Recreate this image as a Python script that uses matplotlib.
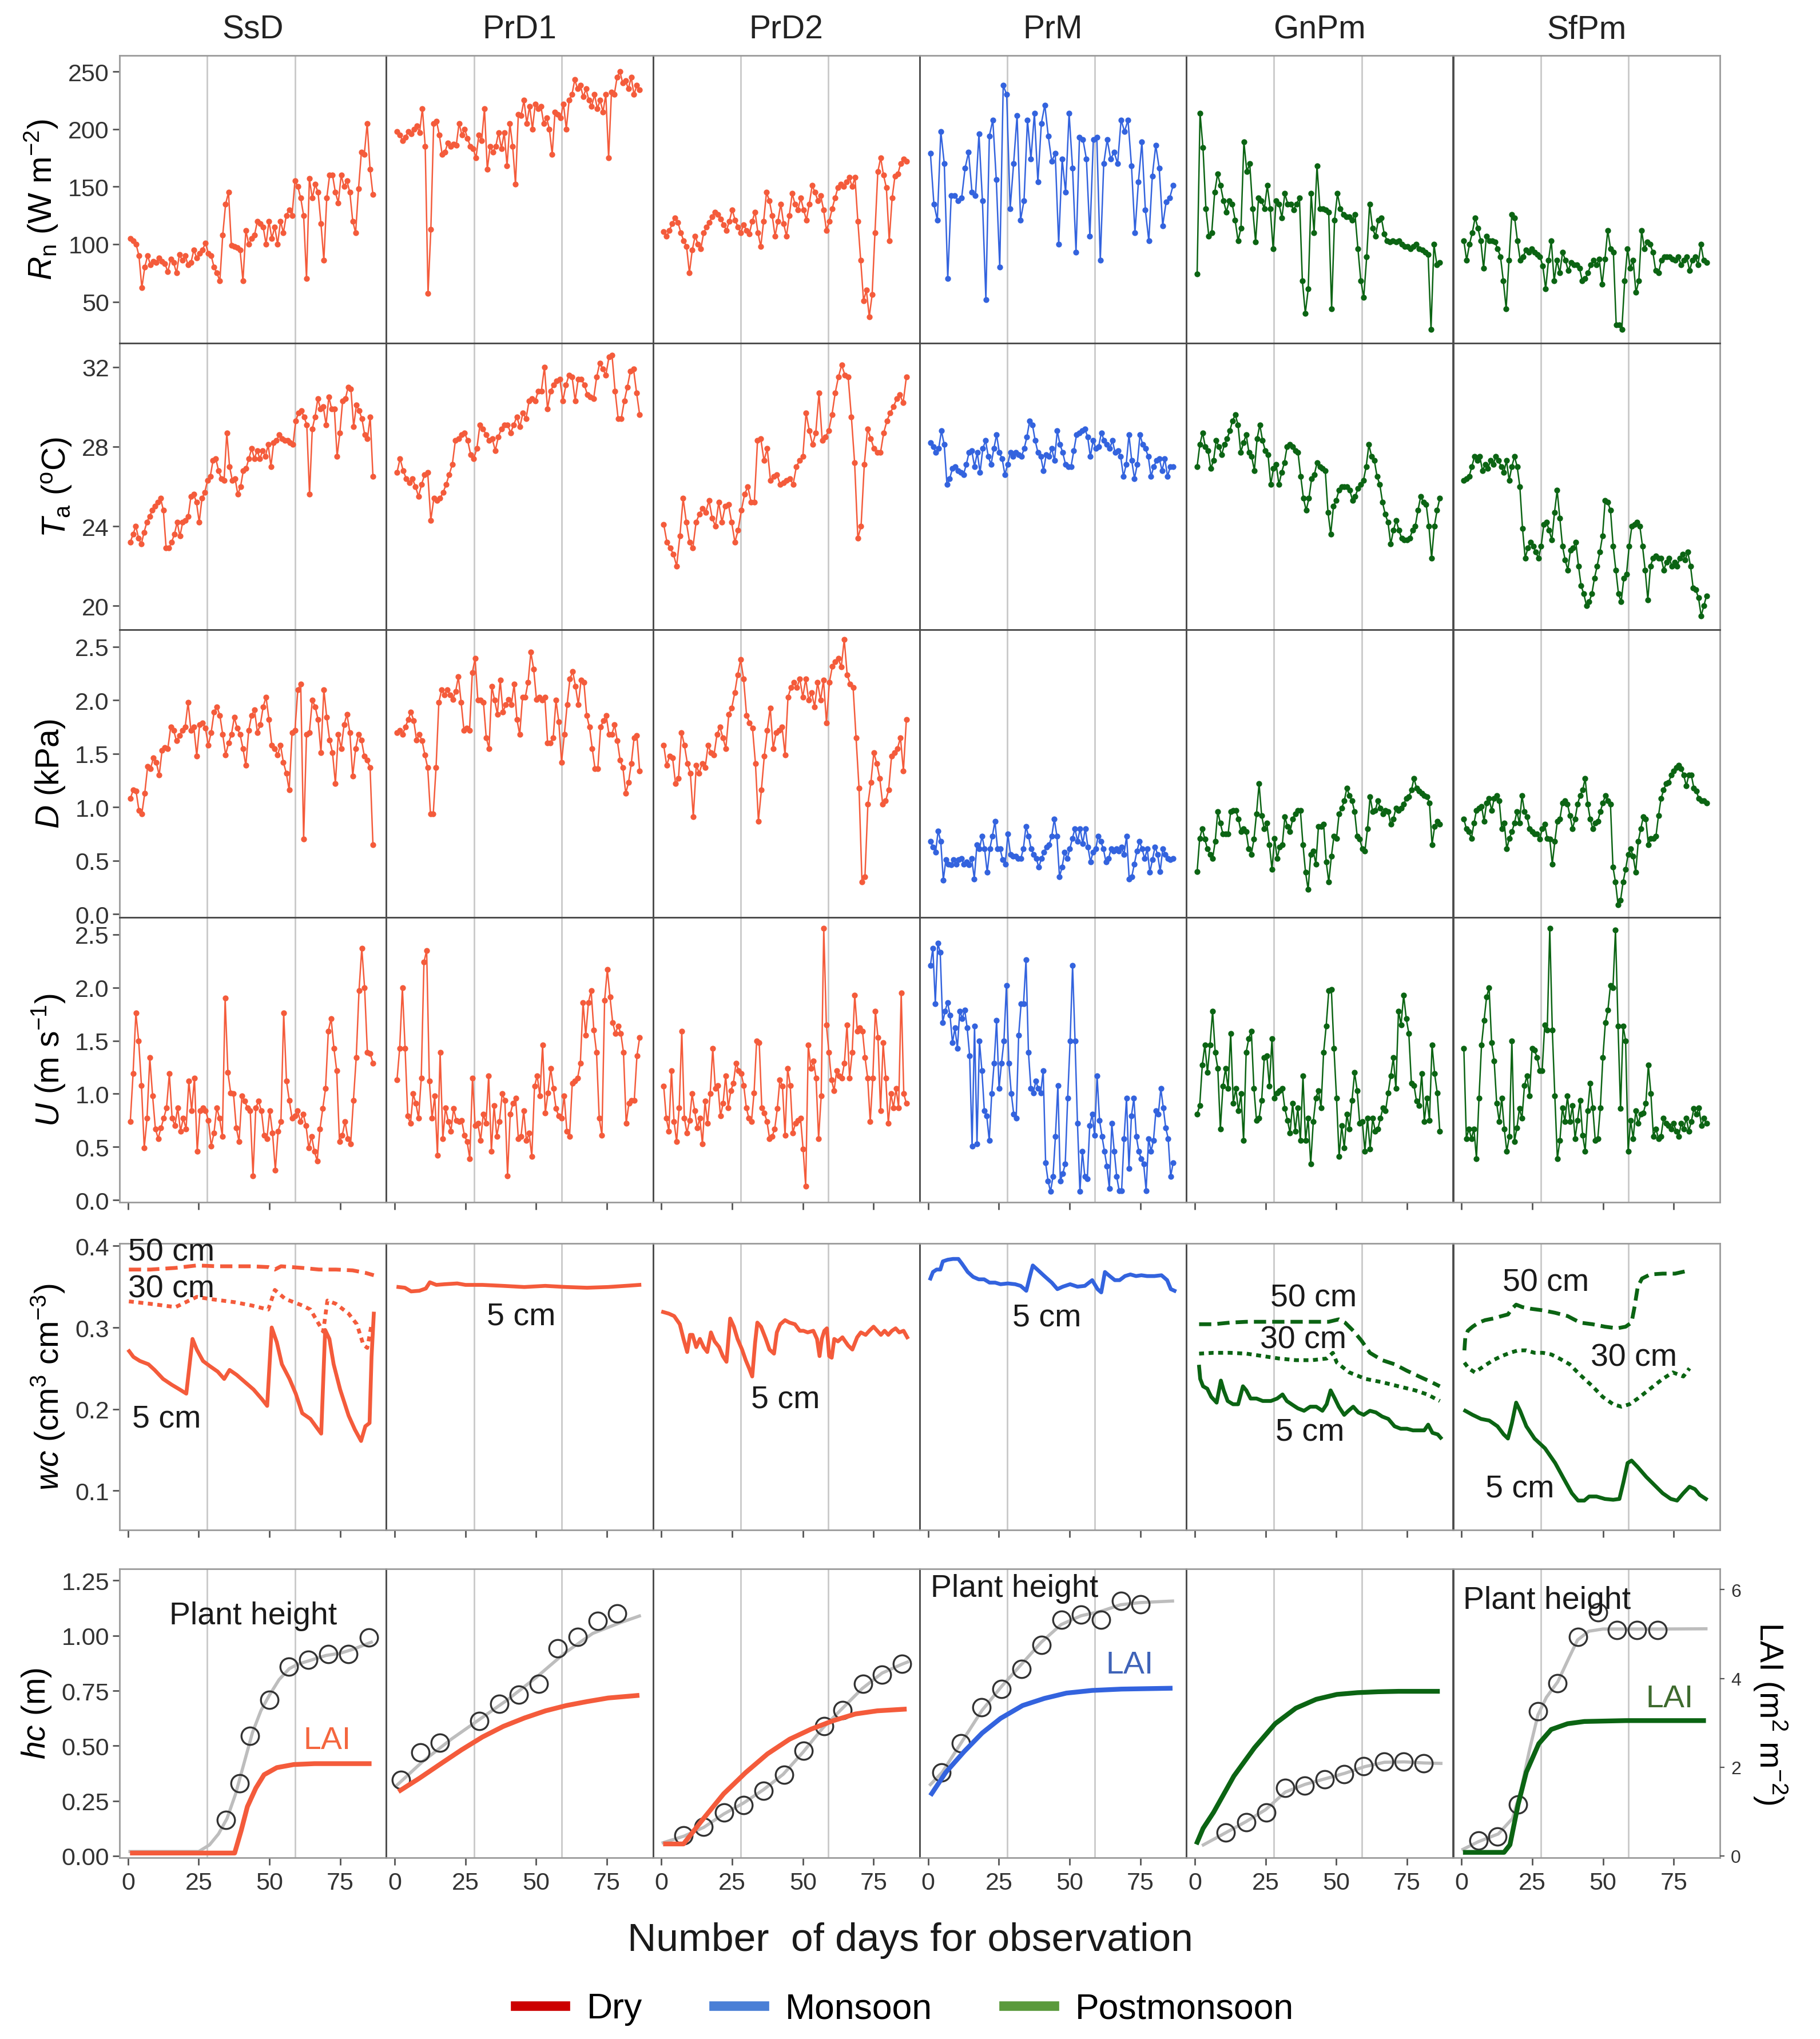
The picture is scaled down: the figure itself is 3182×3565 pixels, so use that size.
import numpy as np
import matplotlib
matplotlib.use("Agg")
import matplotlib.pyplot as plt
from matplotlib.lines import Line2D

plt.rcParams['font.family'] = ['Liberation Sans', 'DejaVu Sans']
plt.rcParams['mathtext.fontset'] = 'custom'
plt.rcParams['mathtext.rm'] = 'Liberation Sans'
plt.rcParams['mathtext.it'] = 'Liberation Sans:italic'
plt.rcParams['mathtext.bf'] = 'Liberation Sans:bold'

# ------------------------------------------------------------------ data
SITES = ['SsD', 'PrD1', 'PrD2', 'PrM', 'GnPm', 'SfPm']
SEASON = ['Dry', 'Dry', 'Dry', 'Monsoon', 'Postmonsoon', 'Postmonsoon']
SEASON_NAMES = ['Dry', 'Monsoon', 'Postmonsoon']
GRID_DAYS = [28, 59]
XTICKS = [0, 25, 50, 75]
OBS_FIRST_DAY = 0.8
OBS_LAST_DAY = 86.6

# Net radiation (W m-2), daily
RN_SSD = [105, 103, 100, 90, 62, 80, 90, 82, 85, 84, 88, 85, 83, 76, 87, 84, 75, 91, 86, 90,
          82, 84, 95, 88, 92, 95, 101, 92, 90, 80, 75, 68, 108, 135, 145, 99, 98, 97, 95, 68,
          112, 100, 105, 108, 120, 118, 115, 100, 120, 105, 115, 100, 120, 110, 125, 130, 125, 155, 150, 140,
          125, 70, 157, 140, 152, 145, 118, 86, 140, 160, 160, 145, 136, 160, 150, 155, 145, 120, 110, 148,
          180, 178, 205, 165, 143]
RN_PRD1 = [198, 195, 190, 193, 198, 196, 200, 203, 197, 218, 185, 57, 113, 205, 207, 195, 178, 180, 188, 185,
           187, 186, 205, 195, 200, 192, 185, 183, 175, 195, 190, 218, 165, 185, 180, 185, 197, 183, 197, 168,
           205, 185, 152, 213, 212, 225, 205, 220, 200, 222, 218, 220, 205, 210, 200, 178, 215, 213, 210, 222,
           200, 225, 230, 243, 235, 238, 228, 235, 225, 220, 230, 218, 225, 215, 230, 175, 232, 230, 245, 250,
           240, 242, 235, 245, 230, 238, 234]
RN_PRD2 = [111, 107, 112, 118, 123, 119, 110, 103, 98, 75, 95, 107, 100, 96, 110, 115, 119, 124, 128, 126,
           122, 117, 112, 120, 130, 121, 115, 110, 117, 112, 109, 120, 128, 110, 98, 120, 145, 138, 125, 107,
           120, 135, 118, 107, 125, 144, 135, 130, 140, 130, 121, 135, 151, 145, 138, 142, 130, 112, 120, 131,
           140, 149, 152, 150, 154, 158, 150, 158, 120, 86, 51, 60, 37, 56, 110, 163, 175, 160, 149, 103,
           140, 159, 161, 170, 174, 172]
RN_PRM = [179, 135, 121, 198, 170, 70, 142, 142, 138, 140, 166, 180, 145, 142, 196, 138, 52, 194, 208, 156,
          80, 238, 230, 131, 170, 212, 121, 138, 208, 174, 214, 154, 205, 221, 194, 172, 179, 100, 174, 145,
          214, 166, 93, 193, 191, 174, 107, 191, 193, 86, 170, 191, 174, 180, 170, 208, 198, 208, 168, 110,
          154, 189, 130, 103, 159, 186, 166, 116, 137, 140, 151]
RN_GNPM = [74, 214, 184, 131, 107, 110, 145, 161, 151, 138, 128, 138, 135, 121, 103, 114, 189, 163, 170, 131,
           102, 140, 138, 131, 151, 131, 96, 138, 135, 123, 144, 135, 135, 130, 135, 140, 68, 40, 61, 144,
           110, 168, 131, 131, 130, 128, 44, 121, 144, 131, 126, 124, 124, 121, 126, 96, 68, 54, 89, 135,
           114, 107, 121, 123, 109, 103, 102, 103, 102, 103, 100, 98, 98, 96, 98, 100, 96, 95, 93, 91,
           26, 100, 82, 84]
RN_SFPM = [103, 86, 100, 110, 123, 114, 103, 79, 107, 103, 103, 102, 96, 89, 68, 44, 86, 126, 123, 103,
           86, 89, 95, 93, 96, 93, 91, 89, 81, 61, 86, 103, 68, 86, 75, 93, 86, 77, 84, 82,
           82, 79, 68, 70, 75, 82, 86, 82, 87, 65, 87, 112, 96, 93, 30, 30, 26, 68, 96, 79,
           86, 58, 68, 112, 96, 102, 100, 93, 77, 75, 86, 89, 89, 89, 87, 86, 89, 82, 86, 89,
           77, 86, 89, 82, 100, 86, 84]

# Air temperature (deg C), daily
TA_SSD = [23.2, 23.6, 24.0, 23.4, 23.1, 23.7, 24.2, 24.5, 24.8, 25.0, 25.2, 25.4, 24.8, 22.9, 22.9, 23.2, 23.6, 24.2, 23.5, 24.2,
          24.3, 24.5, 25.5, 25.6, 25.2, 24.2, 25.4, 25.7, 26.3, 26.5, 27.3, 27.4, 26.8, 26.4, 26.3, 28.7, 27.0, 26.3, 26.4, 25.6,
          26.0, 26.8, 26.9, 27.4, 27.9, 27.4, 27.8, 27.4, 27.8, 27.5, 28.1, 27.0, 28.2, 28.3, 28.6, 28.4, 28.3, 28.3, 28.2, 28.1,
          29.3, 29.7, 29.8, 29.5, 29.1, 25.6, 28.9, 29.5, 30.4, 29.9, 30.0, 29.1, 30.5, 29.9, 29.9, 27.5, 28.7, 30.3, 30.4, 31.0,
          30.9, 29.0, 30.1, 29.8, 29.4, 28.6, 28.4, 29.5, 26.5]
TA_PRD1 = [26.7, 27.4, 26.8, 26.4, 26.2, 26.4, 26.0, 25.5, 26.1, 26.6, 26.7, 24.3, 25.4, 25.3, 25.4, 25.7, 26.1, 26.6, 27.1, 28.3,
           28.4, 28.6, 28.7, 28.3, 27.6, 27.4, 27.9, 29.1, 28.9, 28.6, 28.3, 28.4, 27.8, 28.5, 28.9, 29.1, 29.1, 28.7, 29.1, 29.5,
           29.0, 29.7, 29.4, 30.3, 30.4, 30.3, 30.8, 30.8, 32.0, 29.9, 30.8, 31.1, 31.3, 31.4, 30.3, 31.1, 31.6, 31.5, 30.3, 31.4,
           31.4, 31.1, 30.6, 30.5, 30.4, 31.5, 32.2, 31.9, 31.6, 32.5, 32.6, 30.8, 29.4, 29.4, 30.3, 31.0, 31.8, 31.9, 30.7, 29.6]
TA_PRD2 = [24.1, 23.2, 22.9, 22.6, 22.0, 23.5, 25.4, 24.2, 23.2, 22.9, 24.2, 24.6, 24.9, 24.7, 25.3, 24.4, 24.0, 25.2, 24.2, 25.0,
           25.1, 24.2, 23.2, 23.8, 24.8, 25.6, 26.0, 25.2, 25.2, 28.3, 28.4, 27.3, 27.9, 26.3, 26.5, 26.6, 26.1, 26.2, 26.3, 26.4,
           26.1, 27.0, 27.3, 27.5, 29.7, 28.8, 28.1, 28.7, 30.7, 28.3, 28.5, 28.8, 29.6, 30.7, 31.5, 32.1, 31.6, 31.5, 29.5, 27.2,
           23.4, 24.0, 27.1, 28.9, 28.4, 27.9, 27.7, 27.7, 28.7, 29.3, 29.7, 30.0, 30.4, 30.6, 30.2, 31.5]
TA_PRM = [28.2, 28.0, 27.7, 27.9, 28.8, 28.1, 26.1, 26.4, 26.9, 27.0, 26.8, 26.7, 26.6, 27.1, 27.7, 27.8, 27.0, 27.7, 26.7, 27.9,
          28.3, 27.5, 27.1, 27.9, 28.6, 27.7, 27.4, 26.6, 27.1, 27.7, 27.5, 27.7, 27.6, 27.5, 27.9, 28.5, 29.3, 29.1, 28.3, 27.7,
          27.5, 26.8, 27.6, 27.5, 27.9, 27.3, 28.8, 28.1, 27.7, 27.1, 27.0, 27.0, 27.8, 28.6, 28.7, 28.8, 28.9, 28.5, 27.5, 28.3,
          27.9, 28.0, 28.7, 28.3, 28.1, 27.9, 28.3, 27.7, 27.8, 27.5, 26.5, 27.1, 28.6, 27.3, 26.4, 27.1, 28.6, 28.1, 27.9, 27.5,
          26.5, 27.0, 27.3, 27.4, 26.8, 27.4, 26.5, 27.0, 27.0]
TA_GNPM = [27.0, 28.1, 28.7, 28.0, 27.8, 26.9, 27.3, 28.3, 28.0, 27.6, 28.1, 28.4, 28.8, 29.3, 29.6, 29.1, 27.7, 28.2, 28.6, 27.7,
           27.5, 26.8, 28.4, 29.1, 28.3, 27.8, 27.6, 26.1, 26.9, 27.1, 26.1, 26.7, 27.2, 28.0, 28.1, 28.0, 27.8, 27.7, 26.5, 25.4,
           24.8, 25.4, 26.4, 26.6, 27.2, 27.0, 26.9, 26.8, 24.7, 23.6, 25.0, 25.3, 25.8, 26.0, 26.0, 26.0, 25.8, 25.3, 25.5, 25.9,
           26.1, 26.3, 27.0, 28.1, 27.5, 27.3, 26.5, 26.1, 25.2, 24.6, 24.2, 23.1, 23.8, 24.3, 23.8, 23.4, 23.3, 23.3, 23.4, 23.8,
           24.0, 24.8, 25.5, 25.2, 25.1, 24.0, 22.4, 24.0, 24.8, 25.4]
TA_SFPM = [26.3, 26.4, 26.5, 27.0, 27.5, 27.3, 27.5, 26.8, 27.1, 26.9, 27.3, 27.1, 27.5, 27.3, 27.0, 26.7, 27.3, 26.3, 27.0, 27.5,
           27.0, 26.0, 23.9, 22.4, 22.9, 23.2, 23.0, 22.7, 22.4, 23.0, 24.1, 24.2, 23.8, 23.3, 24.7, 25.8, 24.4, 23.0, 22.3, 21.8,
           22.8, 22.9, 23.2, 22.0, 21.0, 20.6, 20.0, 20.2, 20.6, 21.4, 22.0, 22.7, 23.5, 25.3, 25.2, 24.8, 23.0, 21.8, 20.6, 20.2,
           21.4, 21.6, 23.0, 24.0, 24.1, 24.2, 24.0, 23.0, 21.8, 20.3, 22.0, 22.4, 22.5, 22.4, 22.4, 21.8, 22.2, 22.4, 22.0, 22.2,
           22.0, 22.4, 22.6, 22.3, 22.7, 22.0, 20.9, 20.8, 20.4, 19.5, 20.0, 20.5]

# Vapour pressure deficit (kPa), daily
D_SSD = [1.08, 1.16, 1.15, 0.97, 0.94, 1.13, 1.38, 1.36, 1.46, 1.42, 1.30, 1.53, 1.56, 1.55, 1.75, 1.72, 1.62, 1.67, 1.72, 1.75,
         1.98, 1.72, 1.75, 1.48, 1.77, 1.79, 1.74, 1.58, 1.70, 1.89, 1.94, 1.86, 1.68, 1.49, 1.60, 1.68, 1.84, 1.74, 1.68, 1.55,
         1.39, 1.72, 1.86, 1.91, 1.70, 1.77, 1.94, 2.03, 1.82, 1.58, 1.55, 1.49, 1.58, 1.42, 1.32, 1.16, 1.70, 1.72, 2.10, 2.15,
         0.70, 1.68, 1.70, 2.00, 1.94, 1.82, 1.51, 2.10, 1.84, 1.63, 1.51, 1.22, 1.68, 1.55, 1.77, 1.87, 1.70, 1.29, 1.55, 1.68,
         1.63, 1.48, 1.44, 1.37, 0.65]
D_PRD1 = [1.70, 1.72, 1.68, 1.75, 1.82, 1.89, 1.81, 1.63, 1.68, 1.62, 1.49, 1.37, 0.94, 0.94, 1.37, 1.98, 2.10, 2.05, 2.10, 2.05,
          2.01, 2.08, 2.22, 1.98, 1.72, 1.74, 1.72, 2.26, 2.39, 2.00, 2.00, 1.98, 1.65, 1.55, 2.13, 2.00, 1.87, 2.19, 1.89, 1.96,
          2.01, 1.96, 2.15, 1.82, 1.68, 2.03, 2.03, 2.17, 2.45, 2.29, 2.01, 2.03, 2.00, 2.03, 1.60, 1.60, 1.65, 2.00, 1.80, 1.42,
          1.68, 1.96, 2.20, 2.27, 2.13, 1.96, 2.19, 2.17, 1.86, 1.75, 1.55, 1.36, 1.36, 1.75, 1.81, 1.86, 1.68, 1.68, 1.77, 1.62,
          1.44, 1.37, 1.13, 1.23, 1.41, 1.65, 1.67, 1.34]
D_PRD2 = [1.58, 1.39, 1.48, 1.46, 1.22, 1.27, 1.70, 1.58, 1.41, 1.32, 0.91, 1.39, 1.32, 1.41, 1.37, 1.58, 1.51, 1.49, 1.68, 1.75,
          1.65, 1.55, 1.87, 1.93, 2.07, 2.24, 2.38, 2.20, 1.86, 1.79, 1.74, 1.41, 0.87, 1.16, 1.48, 1.72, 1.93, 1.55, 1.70, 1.72,
          1.75, 1.49, 2.03, 2.12, 2.17, 2.12, 2.20, 2.03, 2.20, 2.00, 2.07, 1.94, 2.17, 2.00, 2.19, 1.79, 2.17, 2.32, 2.36, 2.39,
          2.31, 2.57, 2.24, 2.15, 2.12, 1.65, 1.18, 0.30, 0.35, 1.03, 1.23, 1.51, 1.41, 1.27, 1.03, 1.06, 1.16, 1.48, 1.51, 1.55,
          1.65, 1.34, 1.82]
D_PRM = [0.68, 0.63, 0.58, 0.78, 0.68, 0.32, 0.51, 0.47, 0.46, 0.51, 0.47, 0.51, 0.52, 0.47, 0.49, 0.46, 0.52, 0.33, 0.65, 0.61,
         0.73, 0.61, 0.39, 0.61, 0.73, 0.87, 0.61, 0.61, 0.51, 0.47, 0.75, 0.56, 0.54, 0.54, 0.52, 0.52, 0.61, 0.82, 0.73, 0.61,
         0.56, 0.52, 0.44, 0.52, 0.58, 0.63, 0.65, 0.73, 0.89, 0.73, 0.35, 0.44, 0.58, 0.52, 0.61, 0.71, 0.80, 0.68, 0.80, 0.66,
         0.80, 0.63, 0.49, 0.58, 0.61, 0.73, 0.68, 0.61, 0.49, 0.52, 0.61, 0.59, 0.61, 0.59, 0.63, 0.56, 0.73, 0.33, 0.35, 0.47,
         0.59, 0.68, 0.61, 0.52, 0.61, 0.39, 0.51, 0.63, 0.56, 0.40, 0.61, 0.56, 0.52, 0.51, 0.52]
D_GNPM = [0.40, 0.71, 0.80, 0.70, 0.61, 0.56, 0.52, 0.68, 0.96, 0.85, 0.75, 0.75, 0.75, 0.96, 0.97, 0.97, 0.89, 0.77, 0.80, 0.77,
          0.61, 0.56, 0.70, 0.94, 1.22, 0.92, 0.80, 0.85, 0.65, 0.42, 0.71, 0.52, 0.63, 0.65, 0.91, 0.82, 0.77, 0.89, 0.94, 0.97,
          0.97, 0.65, 0.39, 0.23, 0.56, 0.59, 0.47, 0.82, 0.82, 0.84, 0.49, 0.30, 0.54, 0.73, 0.71, 0.94, 0.99, 1.06, 1.18, 1.11,
          1.06, 0.96, 0.73, 0.70, 0.61, 0.59, 0.80, 1.10, 0.96, 0.97, 1.06, 0.99, 0.94, 0.97, 0.96, 0.84, 0.89, 0.99, 0.97, 0.99,
          1.03, 1.08, 1.10, 1.16, 1.27, 1.18, 1.15, 1.13, 1.11, 1.10, 1.04, 0.65, 0.82, 0.87, 0.84]
D_SFPM = [0.89, 0.80, 0.77, 0.71, 0.85, 0.97, 0.99, 1.01, 0.87, 1.04, 1.08, 0.97, 1.08, 1.11, 1.06, 0.80, 0.85, 0.61, 0.71, 0.77,
          0.85, 0.96, 0.85, 1.11, 0.96, 0.91, 0.80, 0.77, 0.75, 0.75, 0.70, 0.80, 0.84, 0.71, 0.70, 0.47, 0.68, 0.87, 0.89, 1.04,
          1.06, 1.03, 0.92, 0.80, 0.89, 1.03, 1.11, 1.16, 1.27, 1.03, 0.89, 0.80, 0.85, 0.87, 0.96, 1.04, 1.11, 1.06, 1.03, 0.44,
          0.30, 0.09, 0.13, 0.30, 0.42, 0.56, 0.61, 0.54, 0.39, 0.68, 0.80, 0.91, 0.89, 0.65, 0.71, 0.71, 0.73, 0.92, 1.08, 1.16,
          1.22, 1.23, 1.30, 1.34, 1.37, 1.39, 1.36, 1.30, 1.20, 1.30, 1.30, 1.18, 1.15, 1.08, 1.06, 1.06, 1.04]

# Wind speed (m s-1), daily
U_SSD = [0.74, 1.19, 1.76, 1.50, 1.08, 0.49, 0.77, 1.34, 0.98, 0.67, 0.58, 0.68, 0.77, 0.87, 1.19, 0.77, 0.70, 0.87, 0.65, 0.77,
         0.67, 1.12, 0.84, 1.15, 0.46, 0.84, 0.87, 0.84, 0.75, 0.51, 0.63, 0.87, 0.77, 0.60, 1.90, 1.20, 1.01, 1.00, 0.68, 0.55,
         0.98, 0.93, 0.87, 0.84, 0.23, 0.87, 0.93, 0.84, 0.61, 0.58, 0.84, 0.63, 0.28, 0.65, 0.74, 1.76, 1.12, 0.94, 0.77, 0.79,
         0.84, 0.74, 0.81, 0.70, 0.49, 0.60, 0.46, 0.37, 0.67, 0.86, 1.05, 1.59, 1.71, 1.43, 1.22, 0.55, 0.61, 0.74, 0.58, 0.53,
         0.94, 1.34, 1.97, 2.37, 2.00, 1.39, 1.38, 1.29]
U_PRD1 = [1.13, 1.43, 2.00, 1.43, 0.79, 0.72, 1.00, 0.91, 0.77, 1.15, 2.24, 2.35, 1.12, 0.77, 0.98, 0.42, 1.39, 0.58, 0.87, 0.74,
          0.65, 0.86, 0.75, 0.74, 0.75, 0.61, 0.55, 0.39, 1.15, 0.70, 0.72, 0.56, 0.81, 0.72, 1.17, 0.46, 0.89, 0.60, 0.74, 1.00,
          0.94, 0.23, 0.81, 0.91, 0.96, 0.58, 0.60, 0.84, 0.56, 0.63, 0.41, 1.07, 1.17, 0.98, 1.46, 0.82, 1.01, 1.24, 1.05, 0.86,
          0.79, 0.77, 0.98, 0.65, 0.60, 1.10, 1.12, 1.15, 1.29, 1.86, 1.55, 1.86, 1.97, 1.60, 1.39, 0.77, 0.61, 1.88, 2.17, 1.91,
          1.67, 1.57, 1.64, 1.57, 1.39, 0.72, 0.91, 0.94, 0.94, 1.36, 1.53]
U_PRD2 = [1.07, 0.77, 0.65, 1.22, 0.74, 0.55, 0.87, 1.59, 0.77, 0.63, 0.75, 1.00, 0.84, 0.68, 0.77, 0.53, 0.93, 0.72, 1.00, 1.43,
          1.05, 1.08, 0.79, 0.91, 1.17, 0.87, 1.03, 1.10, 1.29, 1.22, 1.19, 1.08, 0.87, 0.77, 0.74, 1.01, 1.50, 1.48, 0.87, 0.82,
          0.74, 0.58, 0.60, 0.67, 0.86, 1.13, 1.07, 0.61, 1.24, 1.08, 0.63, 0.72, 0.75, 0.77, 0.48, 0.13, 1.46, 1.24, 1.31, 1.15,
          0.58, 0.98, 2.56, 1.65, 1.39, 1.13, 1.03, 1.22, 1.17, 1.15, 1.29, 1.65, 1.15, 1.39, 1.93, 1.59, 1.62, 1.59, 1.34, 1.15,
          0.74, 1.15, 1.78, 1.53, 0.84, 1.48, 1.15, 0.72, 1.00, 0.87, 1.05, 0.87, 1.95, 1.00, 0.91]
U_PRM = [2.21, 2.37, 1.85, 2.42, 2.33, 1.67, 1.78, 1.86, 1.74, 1.48, 1.62, 1.43, 1.78, 1.71, 1.79, 1.62, 1.36, 0.51, 1.64, 0.53,
         1.50, 1.22, 0.84, 0.79, 0.56, 1.00, 1.29, 1.69, 1.05, 1.29, 1.50, 2.02, 1.29, 1.00, 0.81, 0.77, 1.55, 1.85, 1.85, 2.26,
         1.39, 1.05, 1.01, 1.12, 1.05, 1.01, 1.22, 0.35, 0.18, 0.08, 0.22, 0.60, 1.08, 0.18, 0.25, 0.34, 0.96, 1.50, 2.21, 1.50,
         0.72, 0.08, 0.46, 0.22, 0.20, 0.70, 0.81, 0.61, 1.17, 0.75, 0.60, 0.46, 0.32, 0.11, 0.72, 0.46, 0.22, 0.09, 0.09, 0.58,
         0.96, 0.30, 0.79, 0.96, 0.60, 0.46, 0.39, 0.34, 0.09, 0.58, 0.46, 0.56, 0.84, 0.81, 1.05, 0.87, 0.68, 0.58, 0.22, 0.35]
U_GNPM = [0.81, 0.89, 1.27, 1.46, 1.20, 1.46, 1.78, 1.39, 1.24, 0.67, 1.07, 1.24, 1.05, 1.57, 0.91, 1.05, 0.84, 1.00, 0.56, 1.39,
          1.52, 1.59, 1.05, 0.75, 0.77, 0.94, 1.34, 1.36, 1.07, 1.52, 0.96, 1.01, 1.03, 1.05, 0.86, 0.75, 0.63, 0.91, 0.65, 0.87,
          0.56, 1.17, 0.56, 0.77, 0.34, 0.74, 0.96, 1.03, 0.87, 1.39, 1.64, 1.97, 1.98, 1.43, 0.96, 0.41, 0.70, 0.49, 0.81, 0.67,
          0.94, 1.20, 1.03, 0.72, 0.74, 0.46, 0.77, 0.48, 0.77, 0.65, 0.67, 0.77, 0.87, 0.84, 1.01, 1.17, 1.34, 1.05, 1.78, 1.65,
          1.93, 1.71, 1.57, 1.10, 1.08, 0.93, 0.89, 1.19, 0.74, 0.96, 0.75, 1.46, 1.19, 1.01, 0.65]
U_SFPM = [1.43, 0.58, 0.67, 0.58, 0.67, 0.39, 0.96, 1.46, 1.69, 1.91, 2.00, 1.48, 1.31, 0.91, 0.74, 0.96, 0.67, 0.46, 0.60, 1.50,
          0.55, 0.68, 0.86, 0.77, 1.08, 1.17, 0.98, 1.43, 1.41, 1.34, 1.22, 1.22, 1.65, 1.60, 2.56, 1.60, 0.98, 0.39, 0.56, 0.87,
          0.74, 0.98, 0.74, 0.89, 0.58, 0.75, 0.94, 0.61, 0.46, 0.84, 1.10, 0.87, 0.56, 0.58, 0.87, 1.34, 1.67, 1.79, 2.02, 2.00,
          2.54, 1.64, 0.86, 1.64, 1.50, 0.46, 0.75, 0.58, 0.84, 0.72, 0.81, 0.82, 0.91, 1.27, 1.00, 0.60, 0.67, 0.58, 0.60, 0.77,
          0.72, 0.70, 0.67, 0.72, 0.65, 0.60, 0.72, 0.67, 0.77, 0.65, 0.74, 0.86, 0.81, 0.87, 0.70, 0.77, 0.72]

# Soil water content (cm3 cm-3): observation day and value per depth
WC5_SSD_DAY = [0.4, 1.9, 4.2, 7.2, 9.4, 12.4, 15.4, 18.3, 20.6, 22.8, 24.3, 26.5, 28.8, 31.7, 34.0, 35.9, 38.4, 41.4, 44.4, 47.4,
               49.2, 50.8, 52.6, 54.4, 57.1, 59.3, 61.6, 64.5, 66.8, 68.3, 69.7, 71.2, 72.7, 75.0, 78.0, 80.2, 82.4, 83.9, 85.4, 86.1, 86.9]
WC5_SSD = [0.271, 0.264, 0.259, 0.255, 0.248, 0.237, 0.230, 0.224, 0.219, 0.286, 0.273, 0.259, 0.253, 0.246, 0.237, 0.248, 0.242, 0.233, 0.224, 0.212,
           0.204, 0.300, 0.282, 0.255, 0.237, 0.219, 0.195, 0.188, 0.177, 0.170, 0.297, 0.286, 0.255, 0.224, 0.192, 0.175, 0.161, 0.179, 0.183, 0.264, 0.317]
WC30_SSD_DAY = [0.3, 7.9, 16.8, 24.3, 28.8, 37.7, 43.7, 49.6, 51.9, 55.6, 61.6, 64.5, 67.5, 69.0, 70.5, 73.5, 78.0, 80.9, 83.2, 84.6, 86.1]
WC30_SSD = [0.332, 0.329, 0.325, 0.3375, 0.335, 0.331, 0.327, 0.322, 0.346, 0.335, 0.327, 0.322, 0.304, 0.295, 0.333, 0.329, 0.317, 0.304, 0.279, 0.275, 0.304]
WC50_SSD_DAY = [0.3, 7.9, 16.8, 24.3, 31.7, 43.7, 49.6, 51.9, 54.1, 61.6, 67.5, 73.5, 79.4, 83.9, 86.9]
WC50_SSD = [0.371, 0.371, 0.373, 0.376, 0.375, 0.375, 0.374, 0.371, 0.375, 0.373, 0.371, 0.371, 0.370, 0.367, 0.364]

WC5_PRD1_DAY = [1.3, 3.6, 5.8, 8.7, 11.0, 12.4, 14.7, 17.6, 22.1, 25.0, 31.0, 38.4, 45.8, 53.2, 60.6, 68.0, 75.4, 82.8, 86.5]
WC5_PRD1 = [0.3496, 0.3487, 0.3442, 0.345, 0.3478, 0.3554, 0.3522, 0.353, 0.354, 0.3522, 0.3522, 0.351, 0.3496, 0.351, 0.3496, 0.3487, 0.3496, 0.3513, 0.3522]

WC5_PRD2_DAY = [0.6, 2.6, 4.5, 6.5, 7.8, 9.1, 10.1, 11.0, 12.3, 13.6, 14.9, 16.2, 17.5, 18.8, 20.4, 21.7, 23.0, 24.3, 25.6, 26.9,
                28.5, 29.8, 31.0, 32.1, 33.1, 33.9, 35.2, 36.9, 38.2, 39.8, 40.8, 42.0, 43.7, 45.3, 47.2, 48.9, 50.2, 51.7, 53.7, 55.0,
                55.9, 56.7, 57.6, 58.5, 59.3, 60.2, 61.1, 62.4, 64.0, 66.0, 67.5, 69.2, 70.5, 72.2, 73.5, 75.0, 76.3, 77.6, 78.9, 80.2,
                81.5, 82.8, 84.1, 85.6, 86.9]
WC5_PRD2 = [0.319, 0.317, 0.314, 0.304, 0.286, 0.270, 0.291, 0.291, 0.276, 0.286, 0.276, 0.270, 0.294, 0.283, 0.276, 0.265, 0.258, 0.311, 0.301, 0.286,
            0.273, 0.260, 0.250, 0.240, 0.281, 0.306, 0.301, 0.286, 0.273, 0.268, 0.294, 0.304, 0.309, 0.306, 0.304, 0.296, 0.296, 0.294, 0.296, 0.286,
            0.265, 0.286, 0.296, 0.299, 0.265, 0.263, 0.286, 0.283, 0.288, 0.278, 0.273, 0.288, 0.294, 0.291, 0.296, 0.301, 0.296, 0.291, 0.296, 0.291,
            0.296, 0.299, 0.294, 0.296, 0.288]

WC5_PRM_DAY = [0.8, 1.7, 3.0, 4.3, 5.2, 6.9, 8.8, 10.7, 12.0, 14.0, 15.9, 17.9, 19.8, 21.7, 23.7, 25.6, 28.2, 30.8, 32.7, 34.7,
               36.0, 37.0, 38.6, 41.1, 43.7, 45.7, 47.6, 50.2, 52.8, 55.4, 58.0, 59.9, 61.2, 62.5, 64.2, 66.0, 67.7, 69.6, 71.5, 73.5,
               75.4, 77.4, 80.0, 82.5, 84.5, 85.8, 87.1]
WC5_PRM = [0.360, 0.368, 0.371, 0.371, 0.381, 0.383, 0.384, 0.384, 0.378, 0.368, 0.362, 0.359, 0.359, 0.355, 0.355, 0.353, 0.354, 0.353, 0.351, 0.345,
           0.363, 0.376, 0.371, 0.363, 0.355, 0.347, 0.350, 0.353, 0.350, 0.351, 0.358, 0.347, 0.343, 0.368, 0.363, 0.358, 0.358, 0.363, 0.365, 0.363,
           0.364, 0.363, 0.363, 0.364, 0.358, 0.347, 0.345]

WC5_GNPM_DAY = [1.5, 1.9, 2.9, 4.4, 5.8, 7.7, 9.2, 10.2, 11.6, 13.5, 15.3, 17.0, 18.2, 19.7, 21.8, 24.0, 26.9, 29.1, 31.0, 32.5,
                34.2, 36.4, 38.6, 40.8, 42.9, 45.1, 46.6, 48.0, 49.5, 50.9, 52.8, 54.3, 56.0, 57.8, 59.7, 61.9, 64.0, 66.2, 68.4, 70.6,
                72.8, 75.0, 77.1, 79.3, 81.1, 82.5, 84.0, 85.9, 86.9]
WC5_GNPM = [0.252, 0.237, 0.228, 0.225, 0.215, 0.208, 0.235, 0.223, 0.210, 0.206, 0.206, 0.228, 0.223, 0.213, 0.213, 0.210, 0.210, 0.213, 0.218, 0.210,
            0.206, 0.201, 0.198, 0.203, 0.203, 0.198, 0.206, 0.223, 0.213, 0.203, 0.193, 0.198, 0.203, 0.196, 0.193, 0.198, 0.196, 0.191, 0.188, 0.179,
            0.176, 0.176, 0.174, 0.174, 0.174, 0.181, 0.171, 0.169, 0.165]
WC30_GNPM_DAY = [1.5, 6.6, 12.4, 18.2, 24.0, 29.8, 35.7, 41.5, 46.6, 48.8, 50.2, 54.6, 60.4, 66.2, 72.0, 77.9, 82.2, 86.6]
WC30_GNPM = [0.268, 0.269, 0.269, 0.268, 0.265, 0.262, 0.260, 0.260, 0.262, 0.269, 0.257, 0.245, 0.237, 0.233, 0.228, 0.223, 0.218, 0.210]
WC50_GNPM_DAY = [1.5, 6.6, 12.4, 18.2, 24.0, 29.8, 35.7, 41.5, 47.3, 50.9, 53.1, 56.0, 58.9, 61.9, 66.2, 70.6, 75.0, 79.3, 83.7, 86.6]
WC50_GNPM = [0.304, 0.304, 0.306, 0.307, 0.307, 0.307, 0.307, 0.307, 0.307, 0.310, 0.306, 0.296, 0.284, 0.269, 0.260, 0.255, 0.247, 0.240, 0.233, 0.228]

WC5_SFPM_DAY = [1.3, 3.9, 6.9, 9.8, 12.7, 14.9, 16.4, 17.8, 19.3, 20.7, 22.9, 25.8, 29.5, 33.1, 36.1, 39.0, 41.2, 43.4, 45.1, 47.7,
                50.7, 53.6, 55.8, 57.2, 58.7, 60.1, 62.3, 65.3, 68.2, 71.1, 74.0, 76.2, 78.4, 80.6, 82.5, 84.2, 86.4]
WC5_SFPM = [0.198, 0.193, 0.188, 0.186, 0.179, 0.169, 0.164, 0.183, 0.208, 0.198, 0.179, 0.164, 0.152, 0.134, 0.115, 0.097, 0.088, 0.088, 0.093, 0.093,
            0.090, 0.089, 0.090, 0.110, 0.134, 0.137, 0.129, 0.117, 0.107, 0.097, 0.090, 0.088, 0.097, 0.105, 0.102, 0.095, 0.090]
WC30_SFPM_DAY = [1.0, 2.5, 4.7, 7.6, 11.2, 14.2, 17.1, 20.0, 22.9, 25.8, 28.8, 31.7, 34.6, 38.2, 41.9, 46.3, 49.9, 53.6, 56.5, 59.4,
                 62.3, 66.7, 71.1, 74.7, 78.4, 80.6]
WC30_SFPM = [0.257, 0.250, 0.245, 0.252, 0.260, 0.265, 0.269, 0.272, 0.272, 0.269, 0.269, 0.267, 0.262, 0.255, 0.242, 0.228, 0.215, 0.206, 0.203, 0.206,
             0.213, 0.225, 0.237, 0.245, 0.240, 0.250]
WC50_SFPM_DAY = [1.0, 1.3, 2.2, 3.9, 6.1, 8.3, 11.2, 14.2, 16.4, 17.8, 19.3, 21.5, 24.4, 28.8, 33.1, 37.5, 41.9, 46.3, 50.7, 55.0,
                 58.0, 60.1, 61.2, 62.3, 63.8, 66.7, 71.1, 75.5, 80.6]
WC50_SFPM = [0.272, 0.287, 0.296, 0.301, 0.306, 0.309, 0.311, 0.314, 0.316, 0.323, 0.328, 0.325, 0.323, 0.321, 0.318, 0.314, 0.306, 0.304, 0.301, 0.299,
             0.301, 0.306, 0.326, 0.350, 0.360, 0.365, 0.366, 0.366, 0.370]

# Plant height (m): measured points and fitted curve
PH_SSD_DAY = [34.7, 39.5, 43.2, 49.9, 56.8, 63.8, 70.8, 77.9, 85.1]
PH_SSD = [0.164, 0.330, 0.545, 0.709, 0.859, 0.890, 0.915, 0.917, 0.992]
PHFIT_SSD_DAY = [0.7, 10, 20, 25, 28.8, 32, 35, 38, 41, 44, 47, 50, 53.4, 57, 60, 65, 70, 75, 80, 86]
PHFIT_SSD = [0.02, 0.02, 0.02, 0.02, 0.05, 0.10, 0.17, 0.28, 0.42, 0.56, 0.66, 0.73, 0.80, 0.85, 0.87, 0.89, 0.91, 0.92, 0.94, 0.97]
PH_PRD1_DAY = [2.1, 9.0, 15.9, 29.9, 36.9, 43.9, 51.0, 57.6, 64.7, 71.7, 78.7]
PH_PRD1 = [0.346, 0.470, 0.513, 0.612, 0.691, 0.731, 0.782, 0.942, 0.995, 1.067, 1.100]
PHFIT_PRD1_DAY = [0.6, 10, 20, 30, 40, 50, 60, 70, 80, 86.5]
PHFIT_PRD1 = [0.319, 0.43, 0.53, 0.62, 0.71, 0.81, 0.92, 1.01, 1.06, 1.089]
PH_PRD2_DAY = [7.8, 14.9, 22.2, 29.1, 36.2, 43.3, 50.2, 57.6, 64.0, 71.2, 77.9, 85.1]
PH_PRD2 = [0.093, 0.131, 0.197, 0.230, 0.296, 0.368, 0.477, 0.590, 0.663, 0.780, 0.824, 0.872]
PHFIT_PRD2_DAY = [0.6, 8, 15, 22, 29, 36, 43, 50, 57, 64, 71, 78, 85, 87]
PHFIT_PRD2 = [0.06, 0.09, 0.13, 0.19, 0.24, 0.30, 0.37, 0.47, 0.58, 0.67, 0.76, 0.83, 0.87, 0.88]
PH_PRM_DAY = [4.7, 11.6, 18.9, 25.9, 33.0, 40.1, 47.2, 54.1, 61.2, 68.3, 75.0]
PH_PRM = [0.378, 0.511, 0.676, 0.758, 0.849, 0.957, 1.071, 1.096, 1.071, 1.157, 1.143]
PHFIT_PRM_DAY = [0.8, 5, 12, 19, 26, 33, 40, 47, 54, 61, 68, 75, 86.4]
PHFIT_PRM = [0.324, 0.38, 0.52, 0.66, 0.77, 0.87, 0.97, 1.05, 1.09, 1.11, 1.14, 1.15, 1.157]
PH_GNPM_DAY = [10.9, 18.2, 25.2, 32.0, 38.9, 45.9, 52.8, 59.7, 67.0, 73.8, 80.8]
PH_GNPM = [0.106, 0.152, 0.198, 0.308, 0.318, 0.348, 0.372, 0.408, 0.427, 0.427, 0.421]
PHFIT_GNPM_DAY = [3, 11, 18, 25, 32, 39, 46, 53, 60, 67, 74, 81, 87]
PHFIT_GNPM = [0.05, 0.106, 0.155, 0.21, 0.29, 0.325, 0.35, 0.375, 0.405, 0.425, 0.427, 0.422, 0.42]
PH_SFPM_DAY = [6.1, 12.7, 20.0, 27.0, 33.9, 41.2, 48.2, 55.0, 62.0, 69.3]
PH_SFPM = [0.069, 0.088, 0.234, 0.656, 0.784, 0.995, 1.105, 1.026, 1.026, 1.026]
PHFIT_SFPM_DAY = [0.5, 6, 13, 18, 21, 24, 27, 30, 34, 38, 41, 45, 50, 55, 62, 70, 86.4]
PHFIT_SFPM = [0.03, 0.065, 0.10, 0.17, 0.30, 0.48, 0.64, 0.72, 0.79, 0.90, 0.98, 1.02, 1.03, 1.03, 1.03, 1.03, 1.031]

# Leaf area index (m2 m-2)
LAI_SSD_DAY = [0.7, 10, 20, 30, 37.7, 40, 42.2, 45.2, 48.1, 52.6, 58.6, 66, 86.1]
LAI_SSD = [0.065, 0.065, 0.065, 0.065, 0.065, 0.57, 1.11, 1.53, 1.83, 1.99, 2.06, 2.08, 2.08]
LAI_PRD1_DAY = [1.3, 8.7, 16.1, 23.6, 31.0, 38.4, 45.9, 53.3, 60.7, 68.1, 75.5, 86.5]
LAI_PRD1 = [1.45, 1.75, 2.07, 2.39, 2.68, 2.92, 3.11, 3.27, 3.39, 3.48, 3.56, 3.62]
LAI_PRD2_DAY = [0.6, 7.8, 14.2, 22.0, 29.8, 37.5, 45.3, 53.0, 60.8, 68.6, 76.3, 86.7]
LAI_PRD2 = [0.27, 0.27, 0.79, 1.40, 1.88, 2.30, 2.63, 2.86, 3.05, 3.20, 3.27, 3.31]
LAI_PRM_DAY = [0.8, 6.2, 12.7, 19.1, 25.6, 33.4, 41.1, 48.9, 58.0, 68.3, 86.4]
LAI_PRM = [1.36, 1.88, 2.35, 2.77, 3.10, 3.39, 3.55, 3.67, 3.73, 3.76, 3.78]
LAI_GNPM_DAY = [0.5, 2.9, 6.6, 13.8, 21.1, 28.4, 35.7, 42.9, 50.2, 57.5, 64.8, 72.0, 86.6]
LAI_GNPM = [0.26, 0.62, 0.98, 1.80, 2.44, 2.98, 3.33, 3.53, 3.64, 3.68, 3.70, 3.71, 3.71]
LAI_SFPM_DAY = [0.5, 8, 15, 17.1, 20.0, 22.9, 27.3, 31.7, 37.5, 43.4, 58.0, 86.4]
LAI_SFPM = [0.08, 0.08, 0.08, 0.25, 1.16, 1.89, 2.53, 2.85, 2.98, 3.03, 3.05, 3.05]

# ------------------------------------------------------------------ assemble
RN = dict(zip(SITES, [RN_SSD, RN_PRD1, RN_PRD2, RN_PRM, RN_GNPM, RN_SFPM]))
TA = dict(zip(SITES, [TA_SSD, TA_PRD1, TA_PRD2, TA_PRM, TA_GNPM, TA_SFPM]))
DD = dict(zip(SITES, [D_SSD, D_PRD1, D_PRD2, D_PRM, D_GNPM, D_SFPM]))
UU = dict(zip(SITES, [U_SSD, U_PRD1, U_PRD2, U_PRM, U_GNPM, U_SFPM]))

WC = {
    'SsD': [(WC5_SSD_DAY, WC5_SSD, '-'), (WC30_SSD_DAY, WC30_SSD, 'dot'), (WC50_SSD_DAY, WC50_SSD, 'dash')],
    'PrD1': [(WC5_PRD1_DAY, WC5_PRD1, '-')],
    'PrD2': [(WC5_PRD2_DAY, WC5_PRD2, '-')],
    'PrM': [(WC5_PRM_DAY, WC5_PRM, '-')],
    'GnPm': [(WC5_GNPM_DAY, WC5_GNPM, '-'), (WC30_GNPM_DAY, WC30_GNPM, 'dot'), (WC50_GNPM_DAY, WC50_GNPM, 'dash')],
    'SfPm': [(WC5_SFPM_DAY, WC5_SFPM, '-'), (WC30_SFPM_DAY, WC30_SFPM, 'dot'), (WC50_SFPM_DAY, WC50_SFPM, 'dash')],
}
WC_LABELS = {
    'SsD': [('50 cm', 0.0, 0.392, 'left'), ('30 cm', 0.0, 0.347, 'left'), ('5 cm', 1.5, 0.188, 'left')],
    'PrD1': [('5 cm', 44.8, 0.314, 'center')],
    'PrD2': [('5 cm', 43.9, 0.212, 'center')],
    'PrM': [('5 cm', 42.0, 0.312, 'center')],
    'GnPm': [('50 cm', 42.0, 0.336, 'center'), ('30 cm', 38.4, 0.285, 'center'), ('5 cm', 40.7, 0.172, 'center')],
    'SfPm': [('50 cm', 29.7, 0.355, 'center'), ('30 cm', 61.0, 0.263, 'center'), ('5 cm', 20.6, 0.103, 'center')],
}
PH = dict(zip(SITES, [(PH_SSD_DAY, PH_SSD), (PH_PRD1_DAY, PH_PRD1), (PH_PRD2_DAY, PH_PRD2),
                      (PH_PRM_DAY, PH_PRM), (PH_GNPM_DAY, PH_GNPM), (PH_SFPM_DAY, PH_SFPM)]))
PHFIT = dict(zip(SITES, [(PHFIT_SSD_DAY, PHFIT_SSD), (PHFIT_PRD1_DAY, PHFIT_PRD1), (PHFIT_PRD2_DAY, PHFIT_PRD2),
                         (PHFIT_PRM_DAY, PHFIT_PRM), (PHFIT_GNPM_DAY, PHFIT_GNPM), (PHFIT_SFPM_DAY, PHFIT_SFPM)]))
LAI = dict(zip(SITES, [(LAI_SSD_DAY, LAI_SSD), (LAI_PRD1_DAY, LAI_PRD1), (LAI_PRD2_DAY, LAI_PRD2),
                       (LAI_PRM_DAY, LAI_PRM), (LAI_GNPM_DAY, LAI_GNPM), (LAI_SFPM_DAY, LAI_SFPM)]))
HC_LABELS = {
    'SsD': [('Plant height', 44.3, 1.09, 'k'), ('LAI', 70.4, 0.525, 'season')],
    'PrM': [('Plant height', 30.6, 1.215, 'k'), ('LAI', 71.3, 0.867, 'season')],
    'SfPm': [('Plant height', 30.2, 1.16, 'k'), ('LAI', 73.6, 0.713, 'season')],
}

# ------------------------------------------------------------------ style
LINE_COLORS = {'Dry': '#F45B3B', 'Monsoon': '#3363DE', 'Postmonsoon': '#0B6413'}
LABEL_COLORS = {'Dry': '#F4663E', 'Monsoon': '#3F63B8', 'Postmonsoon': '#3E6B2E'}
LEGEND_COLORS = {'Dry': '#CC0000', 'Monsoon': '#4A7FD6', 'Postmonsoon': '#5A9A3C'}
OUTER = '#9a9a9a'
INNER = '#4a4a4a'
GRIDC = '#c9c9c9'
TICKC = '#333333'
XLIM = (-3.0, 91.3)

W, H = 3182, 3566
LEFT0, COLW = 209, 466.3
ROWS_PX = [(98, 601), (601, 1102), (1102, 1605), (1605, 2103), (2175, 2676), (2744, 3249)]

fig = plt.figure(figsize=(W / 200, H / 200), dpi=200)


def rect(r, c):
    top, bot = ROWS_PX[r]
    return [(LEFT0 + c * COLW) / W, 1 - bot / H, COLW / W, (bot - top) / H]


def style_spines(ax, r, c):
    block_top = r in (0, 4, 5)
    block_bot = r in (3, 4, 5)
    ax.spines['top'].set_color(OUTER if block_top else INNER)
    ax.spines['bottom'].set_color(OUTER if block_bot else INNER)
    ax.spines['left'].set_color(OUTER if c == 0 else INNER)
    ax.spines['right'].set_color(OUTER if c == 5 else INNER)
    for s in ax.spines.values():
        s.set_linewidth(1.0)


def base_axes(r, c, ylim, yticks, ytl, ylabel):
    ax = fig.add_axes(rect(r, c))
    ax.set_xlim(*XLIM)
    ax.set_ylim(*ylim)
    for g in GRID_DAYS:
        ax.axvline(g, color=GRIDC, lw=1.0, zorder=0.5)
    style_spines(ax, r, c)
    ax.set_xticks(XTICKS)
    show_xt = r in (3, 4, 5)
    ax.tick_params(axis='x', direction='out', length=4.5 if show_xt else 0, width=1.0,
                   color='#555555', labelbottom=(r == 5), labelsize=15.5, labelcolor=TICKC, pad=4)
    ax.set_yticks(yticks)
    if c == 0:
        ax.set_yticklabels(ytl)
        ax.tick_params(axis='y', direction='out', length=4.5, width=1.0, color='#555555',
                       labelsize=15.5, labelcolor=TICKC, pad=2)
        ax.set_ylabel(ylabel, fontsize=20.5, labelpad=5)
    else:
        ax.tick_params(axis='y', length=0, labelleft=False)
    ax.set_facecolor('white')
    return ax


TOP_ROWS = [
    (RN, (14, 264), [50, 100, 150, 200, 250], ['50', '100', '150', '200', '250'],
     r'$\mathit{R}_{\mathrm{n}}$ (W m$^{-2}$)'),
    (TA, (18.8, 33.2), [20, 24, 28, 32], ['20', '24', '28', '32'],
     r'$\mathit{T}_{\mathrm{a}}$ ($^{\mathrm{o}}$C)'),
    (DD, (-0.03, 2.66), [0, 0.5, 1.0, 1.5, 2.0, 2.5], ['0.0', '0.5', '1.0', '1.5', '2.0', '2.5'],
     r'$\mathit{D}$ (kPa)'),
    (UU, (-0.02, 2.66), [0, 0.5, 1.0, 1.5, 2.0, 2.5], ['0.0', '0.5', '1.0', '1.5', '2.0', '2.5'],
     r'$\mathit{U}$ (m s$^{-1}$)'),
]

for r, (data, ylim, yt, ytl, ylab) in enumerate(TOP_ROWS):
    for c, site in enumerate(SITES):
        ax = base_axes(r, c, ylim, yt, ytl, ylab)
        vals = np.asarray(data[site], dtype=float)
        x = np.linspace(OBS_FIRST_DAY, OBS_LAST_DAY, len(vals))
        col = LINE_COLORS[SEASON[c]]
        ax.plot(x, vals, '-', color=col, lw=0.9, marker='o', ms=2.7, mec=col, mfc=col, zorder=3)
        if r == 0:
            ax.set_title(site, fontsize=20.5, pad=11, color='#222222')

# soil water content row
for c, site in enumerate(SITES):
    ax = base_axes(4, c, (0.052, 0.403), [0.1, 0.2, 0.3, 0.4], ['0.1', '0.2', '0.3', '0.4'],
                   r'$\mathit{wc}$ (cm$^{3}$ cm$^{-3}$)')
    col = LINE_COLORS[SEASON[c]]
    for days, vals, style in WC[site]:
        n = min(len(days), len(vals))
        if style == '-':
            ls = '-'
        elif style == 'dot':
            ls = (0, (1.3, 1.2))
        else:
            ls = (0, (3.2, 1.6))
        ax.plot(days[:n], vals[:n], linestyle=ls, color=col, lw=2.4, zorder=3,
                solid_joinstyle='round')
    for txt, xd, yd, ha in WC_LABELS[site]:
        ax.text(xd, yd, txt, fontsize=20, ha=ha, va='center', color='#1a1a1a', zorder=4)

# plant height / LAI row
for c, site in enumerate(SITES):
    ax = base_axes(5, c, (-0.008, 1.303), [0, 0.25, 0.5, 0.75, 1.0, 1.25],
                   ['0.00', '0.25', '0.50', '0.75', '1.00', '1.25'], r'$\mathit{hc}$ (m)')
    col = LINE_COLORS[SEASON[c]]
    fd, fv = PHFIT[site]
    n = min(len(fd), len(fv))
    ax.plot(fd[:n], fv[:n], '-', color='#bdbdbd', lw=2.0, zorder=2)
    pd_, pv = PH[site]
    n = min(len(pd_), len(pv))
    ax.plot(pd_[:n], pv[:n], 'o', ms=11, mfc='none', mec='#333333', mew=1.2, zorder=4)
    ax2 = ax.twinx()
    ax2.set_ylim(-0.04, 6.47)
    ax2.set_xlim(*XLIM)
    for s in ax2.spines.values():
        s.set_visible(False)
    ld, lv = LAI[site]
    n = min(len(ld), len(lv))
    ax2.plot(ld[:n], lv[:n], '-', color=col, lw=3.0, zorder=3, solid_capstyle='butt')
    if c == 5:
        ax2.set_yticks([0, 2, 4, 6])
        ax2.set_yticklabels(['0', '2', '4', '6'])
        ax2.tick_params(axis='y', direction='out', length=3, width=0.8, color='#555555',
                        labelsize=11.5, labelcolor=TICKC, pad=4)
        ax2.set_ylabel(r'LAI (m$^{2}$ m$^{-2}$)', fontsize=20.5, rotation=270, labelpad=30)
    else:
        ax2.set_yticks([])
    for txt, xd, yd, kind in HC_LABELS.get(site, []):
        tc = '#1a1a1a' if kind == 'k' else LABEL_COLORS[SEASON[c]]
        ax.text(xd, yd, txt, fontsize=20, ha='center', va='center', color=tc, zorder=5)

fig.text(0.50, 1 - 3393 / H, 'Number  of days for observation', ha='center', va='center',
         fontsize=25, color='#1a1a1a')

handles = [Line2D([0], [0], color=LEGEND_COLORS[s], lw=6) for s in SEASON_NAMES]
fig.legend(handles, SEASON_NAMES, loc='center', bbox_to_anchor=(0.497, 1 - 3513 / H), ncol=3,
           frameon=False, fontsize=22.5, handlelength=1.4, columnspacing=2.0, handletextpad=0.6)

fig.savefig('out.png', dpi=200, facecolor='white')
